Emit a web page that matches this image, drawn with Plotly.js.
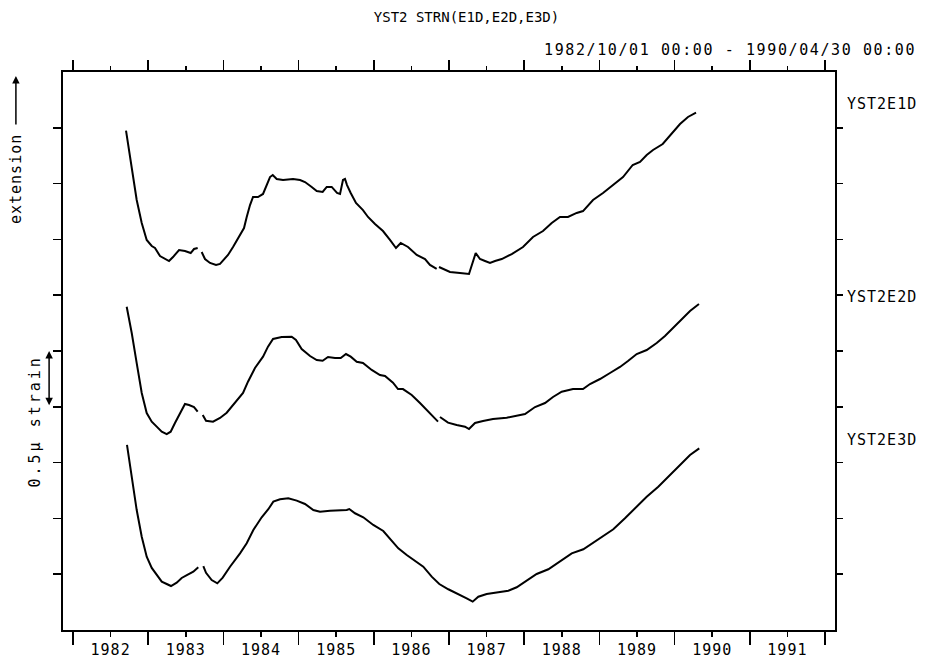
<!DOCTYPE html>
<html>
<head>
<meta charset="utf-8">
<script src="https://cdn.plot.ly/plotly-3.0.1.min.js"></script>
<style>
html,body{margin:0;padding:0;background:#fff;}
#chart{width:933px;height:664px;}
g.xtick text{letter-spacing:1px;}
text[data-unformatted^="1982/10"]{letter-spacing:1.6px;}
text[data-unformatted^="YST2E"]{letter-spacing:1px;}
text[data-unformatted^="extension"]{letter-spacing:1px;}
text[data-unformatted^="0.5"]{letter-spacing:3px;}
</style>
</head>
<body>
<div id="chart"></div>
<script>
// Decimal years and strain values (µstrain, stacked offsets as plotted); null = data gap
const e1dYears = [1982.705,1982.781,1982.847,1982.914,1982.980,1983.047,1983.090,1983.157,1983.223,1983.277,1983.330,1983.410,1983.489,1983.565,1983.609,1983.658,null,
  1983.711,1983.755,1983.822,1983.902,1983.955,1984.008,1984.061,1984.128,1984.194,1984.274,1984.310,1984.354,1984.394,1984.460,1984.527,1984.576,1984.620,1984.656,1984.709,1984.793,1984.926,
  1985.019,1985.085,1985.174,1985.241,1985.320,1985.374,1985.440,1985.511,1985.551,1985.590,1985.617,1985.644,1985.693,1985.763,1985.856,1985.923,
  1986.016,1986.122,1986.215,1986.295,1986.358,1986.455,1986.571,1986.681,1986.747,1986.836,null,
  1986.867,1987.013,1987.146,1987.266,1987.355,1987.412,1987.479,1987.545,1987.612,1987.701,1987.834,1987.984,
  1988.117,1988.250,1988.366,1988.476,1988.582,1988.698,1988.782,1988.915,1989.048,1989.181,1989.314,1989.443,1989.540,1989.629,1989.713,1989.842,1989.961,1990.072,1990.178,1990.285];
const e1dValues = [4.474,4.151,3.853,3.647,3.495,3.441,3.423,3.351,3.324,3.306,3.342,3.405,3.396,3.378,3.414,3.423,null,
  3.387,3.324,3.289,3.271,3.280,3.324,3.360,3.432,3.513,3.602,3.701,3.808,3.880,3.880,3.907,3.987,4.059,4.077,4.041,4.032,4.041,
  4.032,4.014,3.970,3.934,3.925,3.970,3.970,3.916,3.907,4.032,4.041,3.987,3.916,3.826,3.763,3.701,
  3.638,3.575,3.495,3.423,3.468,3.432,3.360,3.324,3.271,3.235,null,
  3.253,3.208,3.199,3.190,3.378,3.324,3.306,3.289,3.306,3.324,3.369,3.432,
  3.522,3.575,3.647,3.701,3.701,3.737,3.754,3.853,3.916,3.987,4.059,4.167,4.194,4.256,4.301,4.355,4.453,4.534,4.597,4.635];

const e2dYears = [1982.714,1982.781,1982.847,1982.914,1982.980,1983.047,1983.113,1983.180,1983.246,1983.299,1983.356,1983.423,1983.489,1983.543,1983.609,1983.658,null,
  1983.725,1983.769,1983.862,1983.955,1984.044,1984.128,1984.261,1984.327,1984.420,1984.527,1984.593,1984.660,1984.775,1984.908,1984.965,
  1985.041,1985.152,1985.241,1985.320,1985.391,1985.484,1985.560,1985.630,1985.693,1985.773,1985.856,1985.972,
  1986.082,1986.149,1986.255,1986.322,1986.388,1986.504,1986.614,1986.721,1986.854,null,
  1986.880,1986.987,1987.102,1987.213,1987.266,1987.346,1987.452,1987.585,1987.767,1987.900,
  1988.011,1988.144,1988.277,1988.383,1988.499,1988.649,1988.782,1988.875,1989.008,1989.141,1989.274,1989.380,1989.496,1989.629,1989.762,1989.872,1989.979,1990.094,1990.205,1990.324];
const e2dValues = [2.897,2.661,2.392,2.124,1.944,1.867,1.822,1.777,1.756,1.777,1.855,1.944,2.025,2.016,1.998,1.956,null,
  1.927,1.875,1.867,1.900,1.947,2.016,2.124,2.225,2.348,2.449,2.539,2.608,2.625,2.628,2.599,
  2.518,2.455,2.419,2.413,2.446,2.437,2.437,2.473,2.449,2.404,2.392,2.330,
  2.285,2.276,2.216,2.159,2.159,2.106,2.034,1.956,1.867,null,
  1.909,1.858,1.837,1.822,1.801,1.855,1.873,1.891,1.902,1.918,
  1.935,1.998,2.034,2.088,2.135,2.159,2.159,2.204,2.249,2.303,2.357,2.410,2.473,2.509,2.572,2.634,2.706,2.787,2.858,2.921];

const e3dYears = [1982.718,1982.781,1982.847,1982.914,1982.980,1983.047,1983.113,1983.180,1983.246,1983.303,1983.379,1983.445,1983.520,1983.600,1983.666,null,
  1983.733,1983.769,1983.844,1983.919,1983.991,1984.088,1984.221,1984.310,1984.398,1984.509,1984.597,1984.664,1984.753,1984.863,1984.975,
  1985.085,1985.196,1985.285,1985.418,1985.528,1985.640,1985.674,1985.750,1985.860,1985.993,
  1986.126,1986.215,1986.326,1986.438,1986.548,1986.658,1986.770,1986.871,1986.991,1987.124,1987.235,1987.315,1987.390,1987.501,1987.634,1987.789,1987.900,
  1988.033,1988.166,1988.321,1988.476,1988.632,1988.786,1988.919,1989.052,1989.185,1989.340,1989.496,1989.629,1989.783,1989.939,1990.072,1990.205,1990.328];
const e3dValues = [1.658,1.374,1.075,0.836,0.657,0.556,0.493,0.433,0.412,0.394,0.424,0.466,0.493,0.522,0.562,null,
  0.573,0.513,0.448,0.418,0.469,0.567,0.687,0.777,0.896,1.010,1.082,1.150,1.171,1.180,1.159,
  1.129,1.075,1.060,1.069,1.075,1.075,1.084,1.046,1.010,0.941,
  0.887,0.822,0.732,0.672,0.621,0.567,0.478,0.412,0.365,0.323,0.284,0.254,0.298,0.323,0.334,0.352,0.383,
  0.439,0.502,0.544,0.612,0.687,0.723,0.782,0.842,0.902,1.001,1.105,1.194,1.284,1.389,1.478,1.568,1.628];

const labelYears = [1982,1983,1984,1985,1986,1987,1988,1989,1990,1991];
const seriesNames = ["YST2E1D","YST2E2D","YST2E3D"];
const titleText = "YST2 STRN(E1D,E2D,E3D)";
const periodText = "1982/10/01 00:00 - 1990/04/30 00:00";

const FONT = "DejaVu Sans Mono";
const lineStyle = {color:"#000", width:2};

const traces = [
  {x:e1dYears, y:e1dValues, name:seriesNames[0], mode:"lines", line:lineStyle, connectgaps:false, hoverinfo:"skip"},
  {x:e2dYears, y:e2dValues, name:seriesNames[1], mode:"lines", line:lineStyle, connectgaps:false, hoverinfo:"skip"},
  {x:e3dYears, y:e3dValues, name:seriesNames[2], mode:"lines", line:lineStyle, connectgaps:false, hoverinfo:"skip"}
];

const xr = [1981.867, 1992.133];
const yr = [0, 5];
const ytv = [0.5,1,1.5,2,2.5,3,3.5,4,4.5];
const txtFont = {family:FONT, size:15, color:"#000"};

const layout = {
  width:933, height:664,
  margin:{l:63, r:98, t:72, b:34, pad:0},
  paper_bgcolor:"#fff", plot_bgcolor:"#fff",
  showlegend:false,
  font:{family:FONT, size:12, color:"#000"},
  title:{text:titleText, x:0.5, xanchor:"center", xref:"container", y:0.974, yref:"container", yanchor:"middle", font:{family:FONT, size:14, color:"#000"}},
  xaxis:{range:xr, showgrid:false, zeroline:false, showline:true, linecolor:"#000", linewidth:2,
    tickmode:"array", tickvals:labelYears.map(v=>v+0.5), ticktext:labelYears.map(String),
    ticks:"outside", ticklen:5, tickwidth:1.5, tickcolor:"#000",
    minor:{tickmode:"linear", tick0:1982, dtick:1, ticks:"outside", ticklen:13, tickwidth:1.5, tickcolor:"#000", showgrid:false},
    tickfont:txtFont},
  xaxis2:{range:xr, overlaying:"x", side:"top", anchor:"y", showgrid:false, zeroline:false, showline:true, linecolor:"#000", linewidth:2,
    tickmode:"linear", tick0:1982, dtick:1, ticks:"outside", ticklen:10, tickwidth:1.5, tickcolor:"#000", showticklabels:false,
    minor:{tickmode:"linear", tick0:1982.5, dtick:1, ticks:"outside", ticklen:4, tickwidth:1.5, tickcolor:"#000", showgrid:false}},
  yaxis:{range:yr, showgrid:false, zeroline:false, showline:true, linecolor:"#000", linewidth:2,
    tickmode:"array", tickvals:ytv, ticks:"outside", ticklen:8, tickwidth:1.5, tickcolor:"#000", showticklabels:false},
  yaxis2:{range:yr, overlaying:"y", side:"right", anchor:"x", showgrid:false, zeroline:false, showline:true, linecolor:"#000", linewidth:2,
    tickmode:"array", tickvals:ytv, ticks:"outside", ticklen:6, tickwidth:1.5, tickcolor:"#000", showticklabels:false},
  annotations:[
    {text:periodText, xref:"paper", yref:"paper", x:1.107, y:1.039, xanchor:"right", yanchor:"middle", showarrow:false, font:txtFont},
    {text:seriesNames[0], xref:"paper", yref:"paper", x:1, y:0.942, xanchor:"left", yanchor:"middle", xshift:10, showarrow:false, font:txtFont},
    {text:seriesNames[1], xref:"paper", yref:"paper", x:1, y:0.597, xanchor:"left", yanchor:"middle", xshift:10, showarrow:false, font:txtFont},
    {text:seriesNames[2], xref:"paper", yref:"paper", x:1, y:0.341, xanchor:"left", yanchor:"middle", xshift:10, showarrow:false, font:txtFont},
    {text:"extension", xref:"paper", yref:"paper", x:-0.061, y:0.808, xanchor:"center", yanchor:"middle", textangle:-90, showarrow:false, font:txtFont},
    {text:"", xref:"paper", yref:"paper", x:-0.061, y:0.993, axref:"pixel", ayref:"pixel", ax:0, ay:50, showarrow:true, arrowhead:2, arrowsize:1, arrowwidth:1.5, arrowcolor:"#000"},
    {text:"0.5µ strain", xref:"paper", yref:"paper", x:-0.036, y:0.374, xanchor:"center", yanchor:"middle", textangle:-90, showarrow:false, font:txtFont},
    {text:"", xref:"paper", yref:"y", x:-0.018, y:2.5, axref:"pixel", ayref:"y", ax:0, ay:2.0, showarrow:true, arrowside:"end+start", arrowhead:2, arrowsize:1, arrowwidth:1.5, arrowcolor:"#000", startarrowhead:2, startarrowsize:1}
  ]
};

traces.push({x:[], y:[], xaxis:"x2", yaxis:"y2", mode:"lines", hoverinfo:"skip", showlegend:false});

Plotly.newPlot("chart", traces, layout, {staticPlot:true, displayModeBar:false});
</script>
</body>
</html>
